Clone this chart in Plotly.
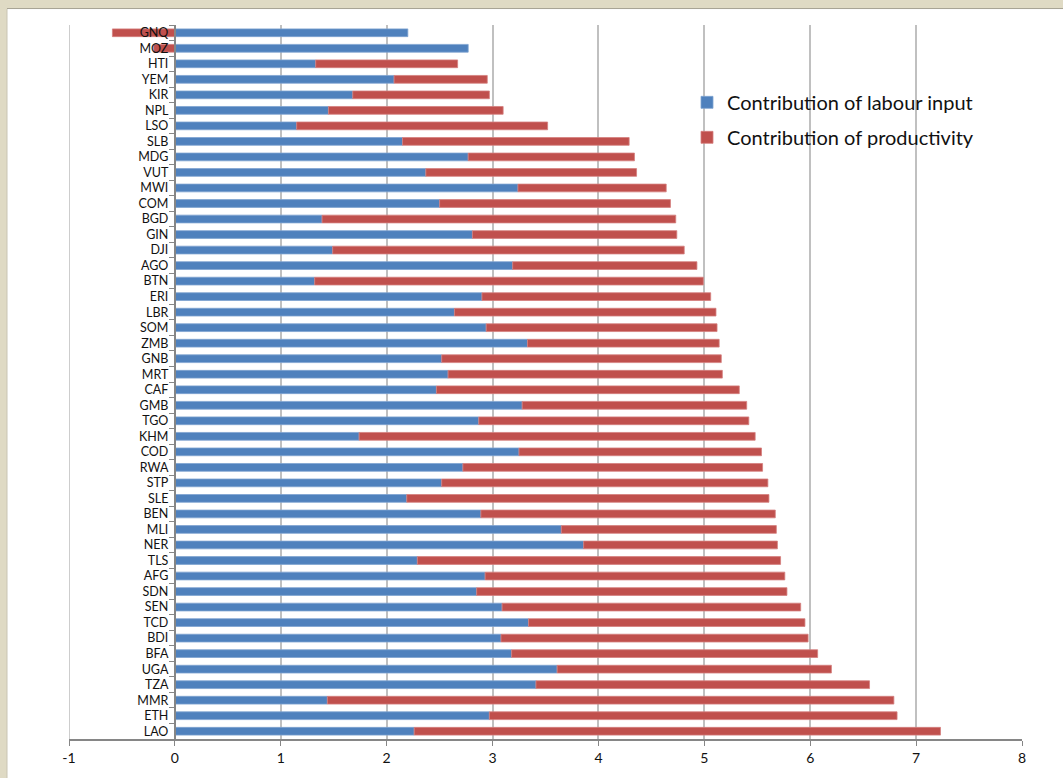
import plotly.graph_objects as go

# Countries, top to bottom
countries = ["GNQ", "MOZ", "HTI", "YEM", "KIR", "NPL", "LSO", "SLB", "MDG", "VUT",
             "MWI", "COM", "BGD", "GIN", "DJI", "AGO", "BTN", "ERI", "LBR", "SOM",
             "ZMB", "GNB", "MRT", "CAF", "GMB", "TGO", "KHM", "COD", "RWA", "STP",
             "SLE", "BEN", "MLI", "NER", "TLS", "AFG", "SDN", "SEN", "TCD", "BDI",
             "BFA", "UGA", "TZA", "MMR", "ETH", "LAO"]

labour = [2.20, 2.77, 1.33, 2.07, 1.68, 1.45, 1.15, 2.15, 2.77, 2.37,
          3.24, 2.50, 1.39, 2.81, 1.49, 3.19, 1.32, 2.90, 2.64, 2.94,
          3.33, 2.52, 2.58, 2.47, 3.28, 2.87, 1.74, 3.25, 2.72, 2.52,
          2.19, 2.89, 3.65, 3.86, 2.29, 2.93, 2.85, 3.09, 3.34, 3.08,
          3.18, 3.61, 3.41, 1.44, 2.97, 2.26]

productivity = [-0.59, -0.20, 1.34, 0.88, 1.29, 1.65, 2.37, 2.14, 1.57, 1.99,
                1.40, 2.18, 3.34, 1.93, 3.32, 1.74, 3.67, 2.16, 2.47, 2.18,
                1.81, 2.64, 2.59, 2.86, 2.12, 2.55, 3.74, 2.29, 2.83, 3.08,
                3.42, 2.78, 2.03, 1.83, 3.43, 2.83, 2.93, 2.82, 2.61, 2.90,
                2.89, 2.59, 3.15, 5.35, 3.85, 4.97]

x_ticks = [-1, 0, 1, 2, 3, 4, 5, 6, 7, 8]
x_tick_labels = ["-1", "0", "1", "2", "3", "4", "5", "6", "7", "8"]

BLUE = "#4F81BD"
RED = "#C0504D"
GRID = "#C0C0C0"
FONT = "Lato"

fig = go.Figure()
fig.add_trace(go.Bar(
    y=countries, x=labour, orientation="h", name="Contribution of labour input",
    marker=dict(color=BLUE, line=dict(color="#7FA3D0", width=0.8)),
    legendgroup="a",
))
fig.add_trace(go.Bar(
    y=countries, x=productivity, orientation="h", name="Contribution of productivity",
    marker=dict(color=RED, line=dict(color="#D47F7D", width=0.8)),
    legendgroup="b",
))

W, H = 1063, 778
L, R, T, B = 69, 41, 25, 37
pw, ph = W - L - R, H - T - B


def px_x(p):
    return (p - L) / pw


def px_y(p):
    return 1 - (p - T) / ph


fig.update_layout(
    width=W, height=H,
    margin=dict(l=L, r=R, t=T, b=B, pad=0),
    paper_bgcolor="#DFDAC4",
    plot_bgcolor="white",
    barmode="relative",
    bargap=0.5,
    font=dict(family=FONT, color="#1a1a1a"),
    showlegend=True,
    legend=dict(
        x=px_x(687), y=px_y(83), xanchor="left", yanchor="top",
        bgcolor="rgba(0,0,0,0)",
        font=dict(family=FONT, size=20, color="#111"),
        traceorder="grouped", tracegroupgap=6,
        itemwidth=30,
    ),
    xaxis=dict(
        range=[-1, 8], tickmode="array", tickvals=x_ticks, ticktext=x_tick_labels,
        showgrid=True, gridcolor=GRID, gridwidth=1.6,
        zeroline=False,
        showline=True, linecolor="#868686", linewidth=2,
        ticks="outside", ticklen=5, tickcolor="#868686", tickwidth=1,
        tickfont=dict(family=FONT, size=14, color="#111"),
    ),
    yaxis=dict(
        autorange="reversed", type="category",
        anchor="free", position=1 / 9,
        showgrid=False, zeroline=False,
        showline=True, linecolor="#868686", linewidth=2,
        ticks="outside", ticklen=5, tickcolor="#868686", tickson="boundaries",
        ticklabelstandoff=3,
        tickfont=dict(family=FONT, size=12.5, color="#111"),
    ),
    shapes=[
        # white chart panel inside the tan frame
        dict(type="rect", xref="paper", yref="paper", layer="below",
             x0=px_x(7), x1=px_x(1070), y0=px_y(790), y1=px_y(9),
             fillcolor="white", line=dict(width=0)),
        dict(type="line", xref="paper", yref="paper", layer="below",
             x0=px_x(7), x1=px_x(1070), y0=px_y(8.5), y1=px_y(8.5),
             line=dict(color="#A7A394", width=1)),
        dict(type="line", xref="paper", yref="paper", layer="below",
             x0=px_x(7), x1=px_x(7), y0=px_y(790), y1=px_y(9),
             line=dict(color="#C9C5B4", width=1)),
        # left-most gridline at x = -1
        dict(type="line", xref="x", yref="paper", layer="below",
             x0=-1, x1=-1, y0=0, y1=1,
             line=dict(color=GRID, width=1.6)),
    ],
)

fig.write_html("out.html")
